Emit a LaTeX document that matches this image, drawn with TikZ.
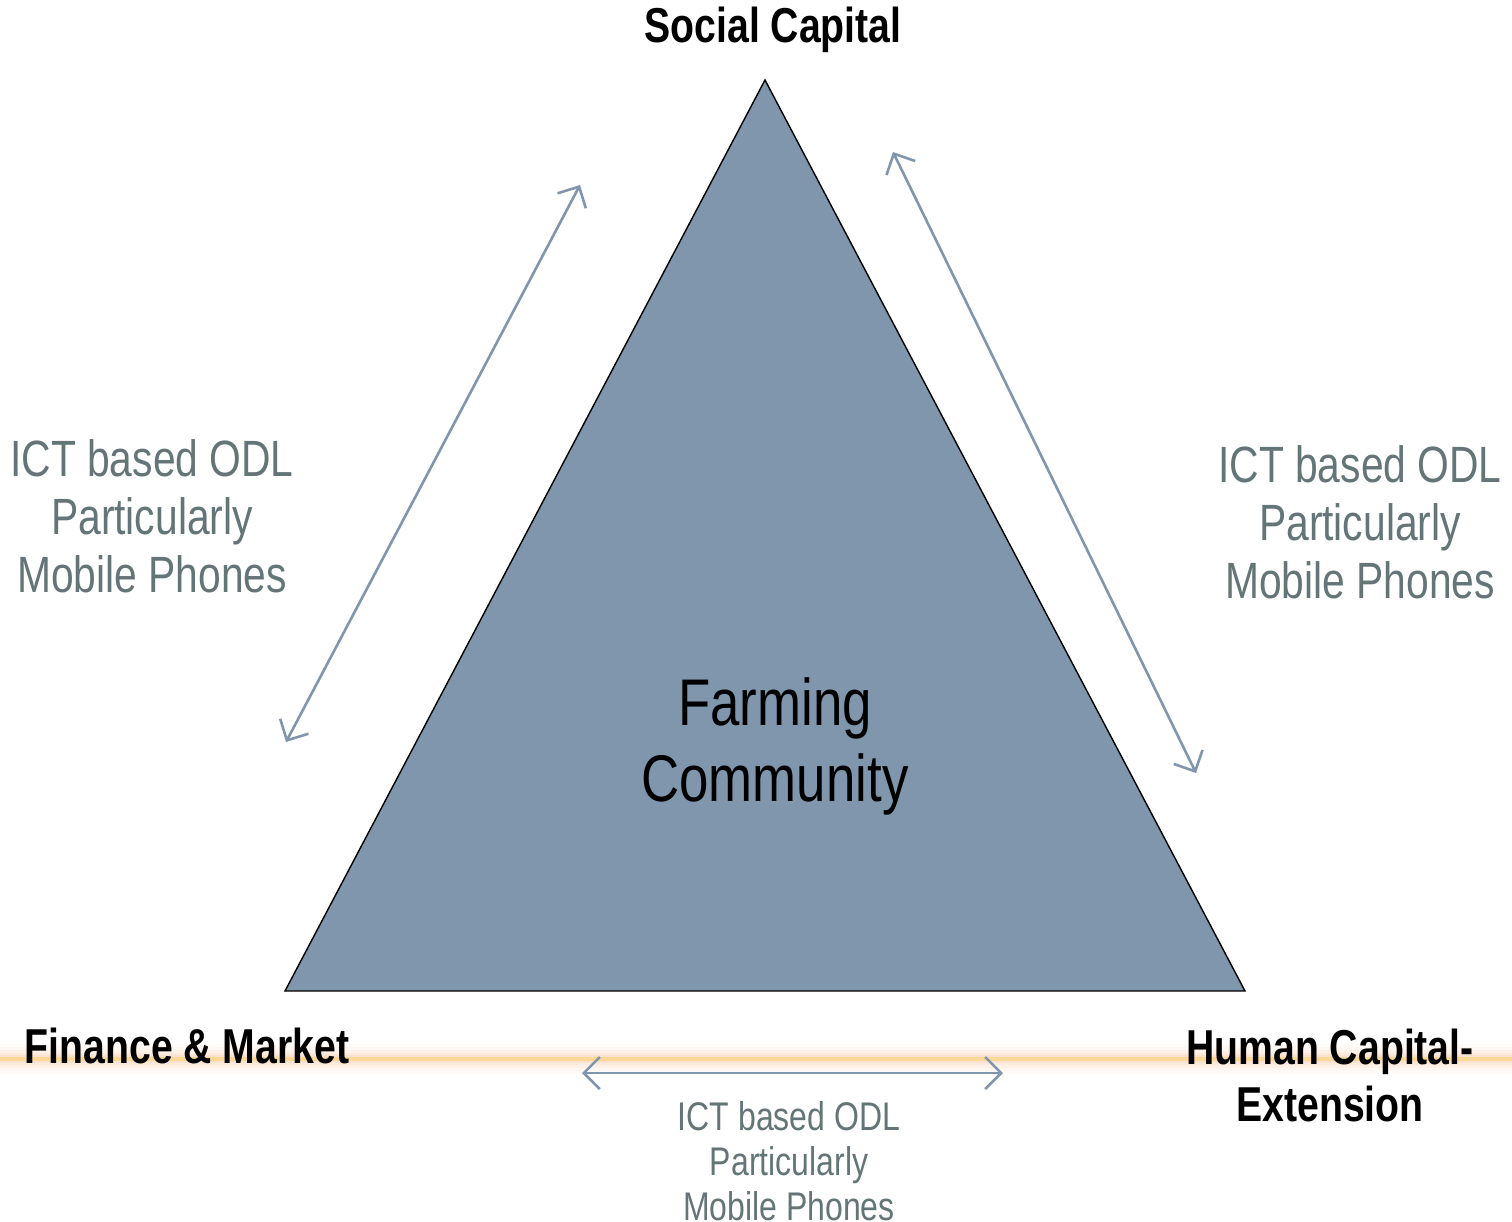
\documentclass[tikz,border=0pt]{standalone}
\usepackage{fontspec}
\setmainfont{Liberation Sans}[FakeStretch=0.80]
\usetikzlibrary{arrows.meta}
\definecolor{triFill}{RGB}{128,150,173}
\definecolor{linkCol}{RGB}{128,150,174}
\definecolor{noteCol}{RGB}{99,117,118}
\definecolor{glowCore}{RGB}{250,210,110}
\definecolor{glowHalo}{RGB}{245,185,140}
\begin{document}
\begin{tikzpicture}[x=0.5pt,y=-0.5pt,
  corner/.style={font=\bfseries\fontsize{24.5}{28.5}\selectfont, text=black, align=center, inner sep=0pt},
  note/.style={font=\fontsize{25.5}{29}\selectfont, text=noteCol, align=center, inner sep=0pt},
  smallnote/.style={font=\fontsize{20}{22.5}\selectfont, text=noteCol, align=center, inner sep=0pt},
  link/.style={draw=linkCol, line width=1.3pt, {Straight Barb[length=8pt,width=16pt]}-{Straight Barb[length=8pt,width=16pt]}}]
\useasboundingbox (0,0) rectangle (1512,1222);
% soft glow line along the base
\foreach \w/\o in {30/0.05,24/0.07,18/0.09,12/0.12,8/0.16}
  \draw[glowHalo, line width=\w*0.5pt, opacity=\o] (0,1059) -- (1512,1059);
\draw[glowCore, line width=2pt, opacity=0.6] (0,1059) -- (1512,1059);
% central triangle
\coordinate (top) at (765,80);
\coordinate (bl) at (285,991);
\coordinate (br) at (1245,991);
\filldraw[fill=triFill, draw=black, line width=0.7pt] (top) -- (br) -- (bl) -- cycle;
\node[font=\fontsize{33}{38}\selectfont, align=center, inner sep=0pt] (farm) at (775,746) {Farming\\Community};
% corner labels
\node[corner] (social) at (773,30) {Social Capital};
\node[corner] (finance) at (187,1046) {Finance \& Market};
\node[corner] (human) at (1330,1075) {Human Capital-\\Extension};
% two-way links with notes
\coordinate (l1) at (580,185);
\coordinate (l2) at (286,742);
\coordinate (r1) at (893,152);
\coordinate (r2) at (1196,773);
\coordinate (b1) at (582,1073);
\coordinate (b2) at (1003,1073);
\draw[link] (l1) -- (l2);
\draw[link] (r1) -- (r2);
\draw[link] (b1) -- (b2);
\node[note] (leftnote) at (152,516) {ICT based ODL\\Particularly\\Mobile Phones};
\node[note] (rightnote) at (1360,522) {ICT based ODL\\Particularly\\Mobile Phones};
\node[smallnote] (bottomnote) at (789,1161) {ICT based ODL\\Particularly\\Mobile Phones};
\end{tikzpicture}
\end{document}
